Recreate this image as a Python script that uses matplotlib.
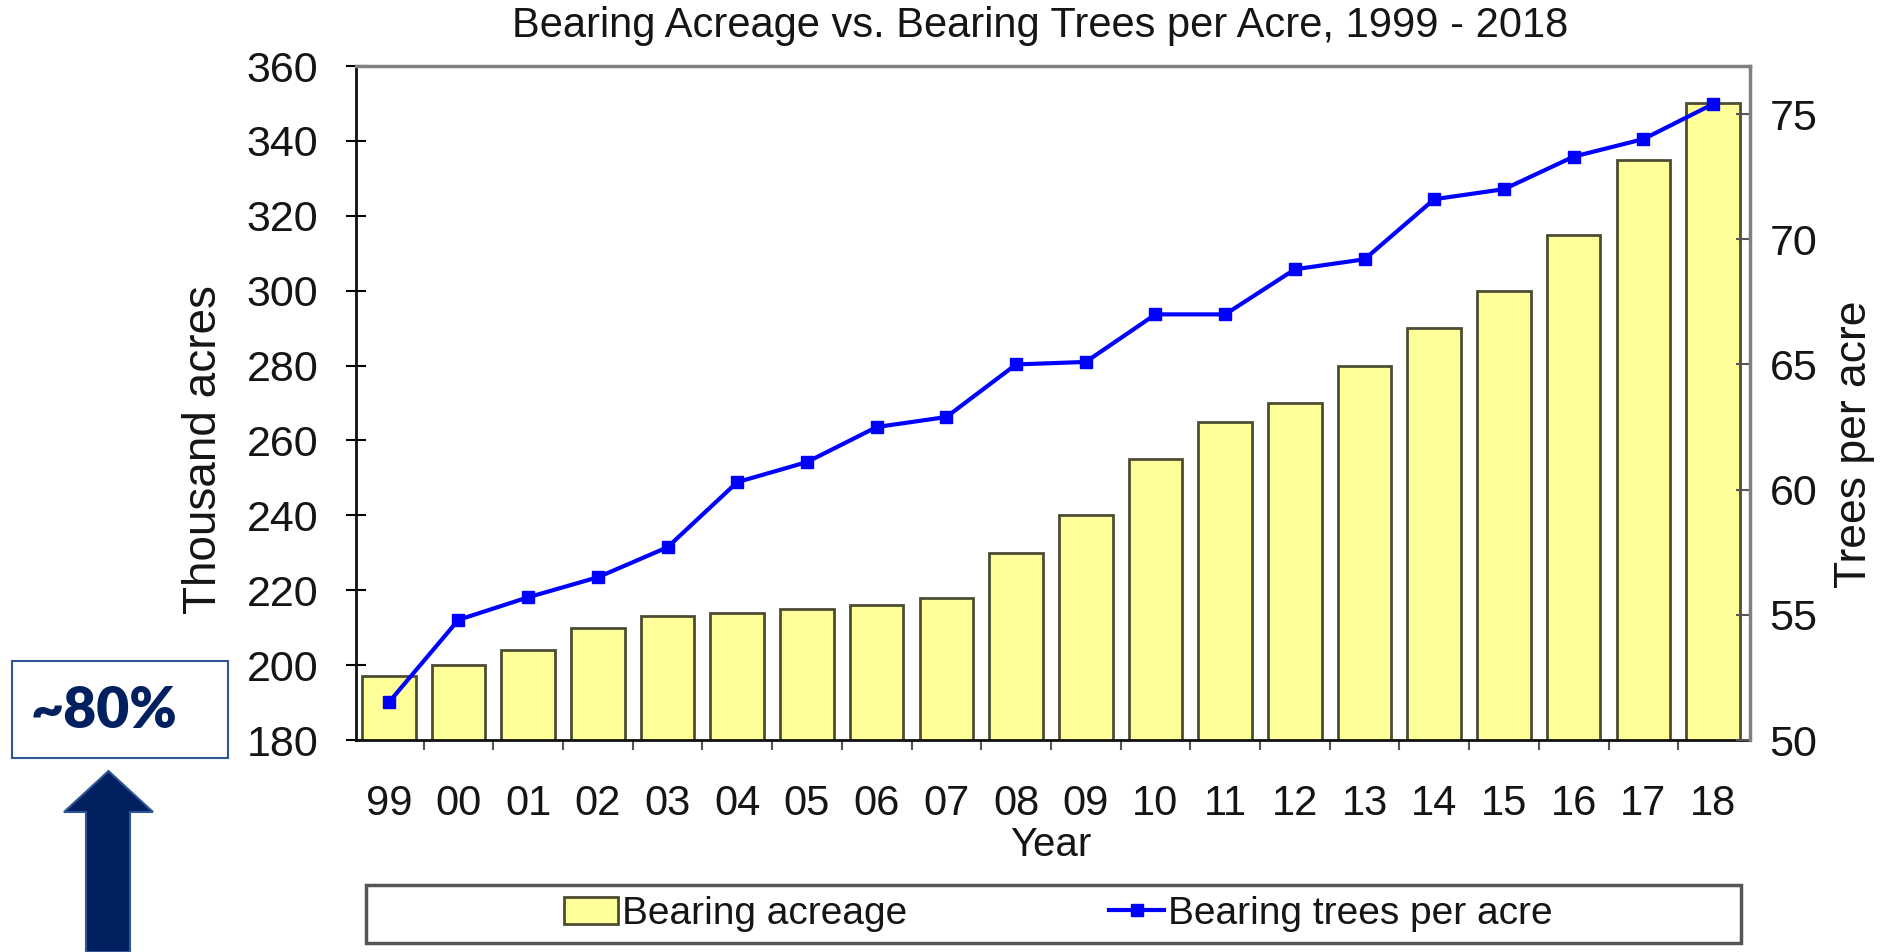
import numpy as np
import matplotlib
matplotlib.use('Agg')
import matplotlib.pyplot as plt
from matplotlib.patches import Rectangle, Polygon, Patch
from matplotlib.lines import Line2D

plt.rcParams['font.family'] = ['Liberation Sans', 'DejaVu Sans']

############################################################
# donnees
############################################################
years = ['99', '00', '01', '02', '03', '04', '05', '06', '07', '08',
         '09', '10', '11', '12', '13', '14', '15', '16', '17', '18']
acreage = [197, 200, 204, 210, 213, 214, 215, 216, 218, 230,
           240, 255, 265, 270, 280, 290, 300, 315, 335, 350]   # milliers d'acres
trees_per_acre = [51.5, 54.8, 55.7, 56.5, 57.7, 60.3, 61.1, 62.5, 62.9, 65.0,
                  65.1, 67.0, 67.0, 68.8, 69.2, 71.6, 72.0, 73.3, 74.0, 75.4]

W, H = 1883, 952
def fx(x):   # pixels -> fraction figure
    return x / W
def fy(y):
    return 1 - y / H

txt = '#151515'

fig = plt.figure(figsize=(W / 100, H / 100), dpi=100)
ax = fig.add_axes([fx(356), fy(740), fx(1750) - fx(356), fy(66) - fy(740)])
ax2 = ax.twinx()

x = np.arange(len(years))

############################################################
# barres + courbe
############################################################
ax.bar(x, acreage, width=0.77, color='#FFFF99', edgecolor='#4d4d33', linewidth=2, zorder=2)
ax2.plot(x, trees_per_acre, color='#0000FF', linewidth=3, marker='s', markersize=9, zorder=3)

ax.set_xlim(-0.47, 19.53)
ax.set_ylim(180, 360)
ax.set_yticks(np.arange(180, 361, 20))
ax2.set_ylim(50, 76.92)
ax2.set_yticks(np.arange(50, 76, 5))

ax.set_xticks(x)
ax.set_xticklabels(years)
ax.set_xticks(np.arange(0.5, 19, 1), minor=True)
ax.tick_params(axis='x', which='major', length=0, pad=32, labelsize=30, labelcolor=txt)
ax.tick_params(axis='x', which='minor', length=7, width=1.5, direction='out', color='#555555')
ax.tick_params(axis='y', direction='inout', length=14, width=1.5, pad=20, labelsize=31, labelcolor=txt)
ax2.tick_params(axis='y', direction='in', length=10, width=1.5, pad=14, labelsize=31,
                labelcolor=txt, color='#555555')

for s in ['left', 'bottom']:
    ax.spines[s].set_color('#111111')
    ax.spines[s].set_linewidth(2)
for s in ['top', 'right']:
    ax2.spines[s].set_color('#808080')
    ax2.spines[s].set_linewidth(2.5)
    ax.spines[s].set_visible(False)
ax2.spines['left'].set_visible(False)
ax2.spines['bottom'].set_visible(False)

############################################################
# textes
############################################################
fig.text(fx(1040), fy(26), 'Bearing Acreage vs. Bearing Trees per Acre, 1999 - 2018',
         ha='center', va='center', fontsize=30, color=txt)
fig.text(fx(204), fy(450), 'Thousand acres', rotation=90, ha='center', va='center',
         fontsize=33, color=txt)
fig.text(fx(1855), fy(444), 'Trees per acre', rotation=90, ha='center', va='center',
         fontsize=32, color=txt)
fig.text(fx(1051), fy(845), 'Year', ha='center', va='center', fontsize=29, color=txt)

############################################################
# legende
############################################################
fig.patches.append(Rectangle((fx(366), fy(943)), fx(1741) - fx(366), fy(885) - fy(943),
                             transform=fig.transFigure, fill=False, edgecolor='#555555',
                             linewidth=2.5))
handles = [Patch(facecolor='#FFFF99', edgecolor='#4d4d33', linewidth=2),
           Line2D([], [], color='#0000FF', linewidth=3, marker='s', markersize=9)]
fig.legend(handles, ['Bearing acreage', 'Bearing trees per acre'], loc='center',
           bbox_to_anchor=(fx(1058), fy(914)), ncol=2, frameon=False, fontsize=28,
           handlelength=1.4, handletextpad=0.1, columnspacing=5.2, labelcolor=txt)

############################################################
# encadre ~80% + fleche
############################################################
fig.patches.append(Rectangle((fx(12), fy(758)), fx(228) - fx(12), fy(661) - fy(758),
                             transform=fig.transFigure, facecolor='white', edgecolor='#2F5597',
                             linewidth=1.5))
fig.text(fx(104), fy(711), '~80%', ha='center', va='center', fontsize=41,
         fontweight='heavy', color='#002060', family=['Lato', 'DejaVu Sans'])
arrow = [(86, 952), (86, 812), (64, 812), (108.5, 771), (153, 812), (130, 812), (130, 952)]
fig.patches.append(Polygon([(fx(a), fy(b)) for a, b in arrow], closed=True,
                           transform=fig.transFigure, facecolor='#002060',
                           edgecolor='#2F5597', linewidth=1.5))

fig.savefig('out.png', dpi=100)
